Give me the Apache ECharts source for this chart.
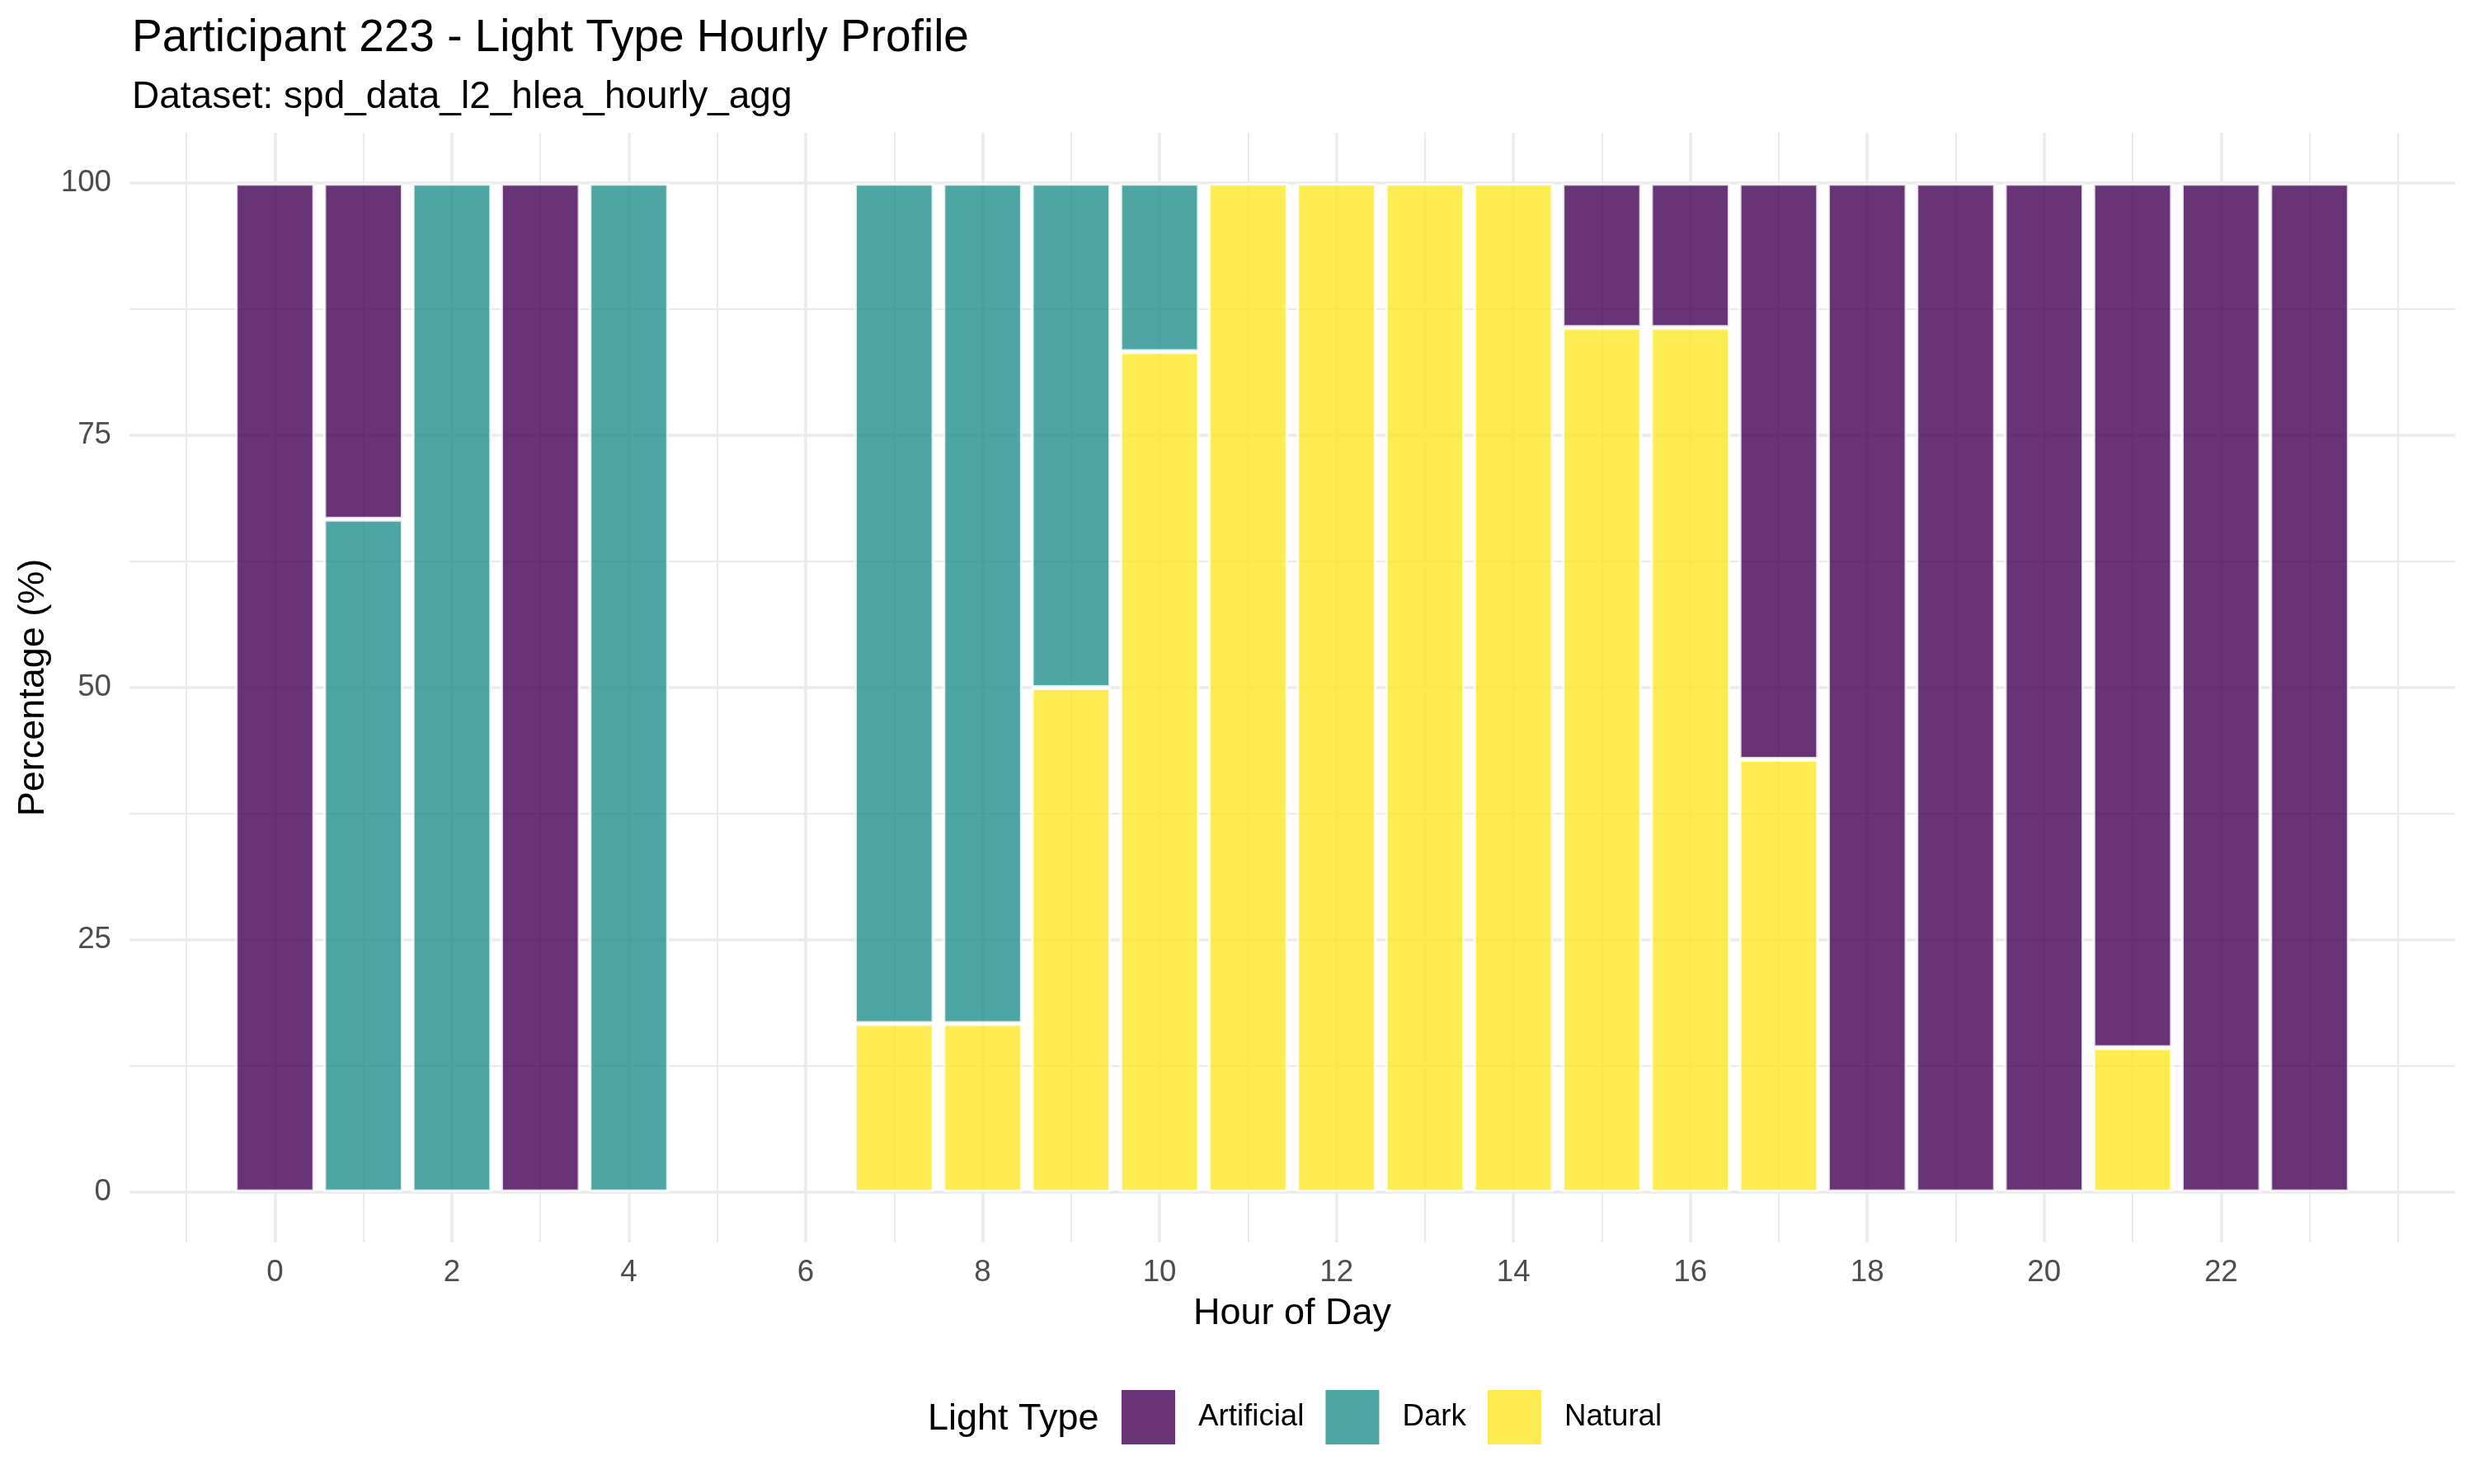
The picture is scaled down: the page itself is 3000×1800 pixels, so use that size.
<!DOCTYPE html>
<html>
<head>
<meta charset="utf-8">
<script src="https://cdn.jsdelivr.net/npm/echarts@6/dist/echarts.min.js"></script>
<style>
html, body { margin: 0; background: #fff; }
#chart { width: 3000px; height: 1800px; }
</style>
</head>
<body>
<div id="chart"></div>
<script>
// hourly share of each light type (%), null = no data for that type
var hours = [0, 1, 2, 3, 4, 5, 6, 7, 8, 9, 10, 11, 12, 13, 14, 15, 16, 17, 18, 19, 20, 21, 22, 23];
var artificial = [100, 33.3, null, 100, null, null, null, null, null, null, null, null, null, null, null, 14.3, 14.3, 57.1, 100, 100, 100, 85.7, 100, 100];
var dark = [null, 66.7, 100, null, 100, null, null, 83.3, 83.3, 50, 16.7, null, null, null, null, null, null, null, null, null, null, null, null, null];
var natural = [null, null, null, null, null, null, null, 16.7, 16.7, 50, 83.3, 100, 100, 100, 100, 85.7, 85.7, 42.9, null, null, null, 14.3, null, null];

var xTicks = [0, 2, 4, 6, 8, 10, 12, 14, 16, 18, 20, 22];
var xMinor = [-1, 1, 3, 5, 7, 9, 11, 13, 15, 17, 19, 21, 23, 24];
var yTicks = [0, 25, 50, 75, 100];
var yMinor = [12.5, 37.5, 62.5, 87.5];

var font = 'Liberation Sans';
var grid_col = '#EBEBEB';

// value first so that the stack is done on the percentage, hour second
function pairs(vals) {
    return hours.map(function (h, i) { return [vals[i], h]; });
}

function barSeries(name, color, vals) {
    return {
        name: name,
        type: 'bar',
        stack: 'light',
        barWidth: '90%',
        xAxisIndex: 0,
        yAxisIndex: 0,
        encode: {x: 1, y: 0},
        itemStyle: {
            color: color,
            opacity: 0.8,
            borderColor: '#fff',
            borderWidth: 3
        },
        data: pairs(vals)
    };
}

var myChart = echarts.init(document.getElementById('chart'), null, {renderer: 'canvas'});
var option = {
    backgroundColor: '#fff',
    animation: false,
    title: {
        left: 155,
        top: 14,
        text: 'Participant 223 - Light Type Hourly Profile',
        subtext: 'Dataset: spd_data_l2_hlea_hourly_agg',
        itemGap: 21,
        textStyle: {fontFamily: font, fontSize: 55, fontWeight: 'normal', color: '#000'},
        subtextStyle: {fontFamily: font, fontSize: 46, color: '#000'}
    },
    grid: {left: 157, right: 23, top: 161, bottom: 293, containLabel: false},
    legend: {
        data: ['Artificial', 'Dark', 'Natural'],
        left: 1360,
        top: 1686,
        padding: 0,
        icon: 'rect',
        itemWidth: 65,
        itemHeight: 66,
        itemGap: 26,
        itemStyle: {borderWidth: 0},
        textStyle: {fontFamily: font, fontSize: 36.7, color: '#000', padding: [0, 0, 0, 23]}
    },
    graphic: [{
        type: 'text',
        left: 1125,
        top: 1699,
        style: {text: 'Light Type', font: '45px "Liberation Sans"', fill: '#000'}
    }],
    xAxis: [{
        type: 'value',
        min: -1.645,
        max: 24.645,
        name: 'Hour of Day',
        nameLocation: 'middle',
        nameGap: 64,
        nameTextStyle: {fontFamily: font, fontSize: 45, color: '#000'},
        axisLine: {show: false},
        axisTick: {show: false, customValues: xTicks},
        axisLabel: {customValues: xTicks, margin: 18, fontFamily: font, fontSize: 36.7, color: '#4D4D4D'},
        splitLine: {show: true, lineStyle: {color: grid_col, width: 3.5}}
    }, {
        type: 'value',
        min: -1.645,
        max: 24.645,
        position: 'bottom',
        axisLine: {show: false},
        axisTick: {show: false, customValues: xMinor},
        axisLabel: {show: false},
        splitLine: {show: true, lineStyle: {color: grid_col, width: 2}}
    }],
    yAxis: [{
        type: 'value',
        min: -5,
        max: 105,
        name: 'Percentage (%)',
        nameLocation: 'middle',
        nameGap: 89,
        nameTextStyle: {fontFamily: font, fontSize: 45, color: '#000'},
        axisLine: {show: false},
        axisTick: {show: false, customValues: yTicks},
        axisLabel: {customValues: yTicks, margin: 22, fontFamily: font, fontSize: 36.7, color: '#4D4D4D'},
        splitLine: {show: true, lineStyle: {color: grid_col, width: 3.5}}
    }, {
        type: 'value',
        min: -5,
        max: 105,
        position: 'left',
        axisLine: {show: false},
        axisTick: {show: false, customValues: yMinor},
        axisLabel: {show: false},
        splitLine: {show: true, lineStyle: {color: grid_col, width: 2}}
    }],
    series: [
        barSeries('Natural', '#FDE725', natural),
        barSeries('Dark', '#21908C', dark),
        barSeries('Artificial', '#440154', artificial)
    ]
};
myChart.setOption(option);
</script>
</body>
</html>
